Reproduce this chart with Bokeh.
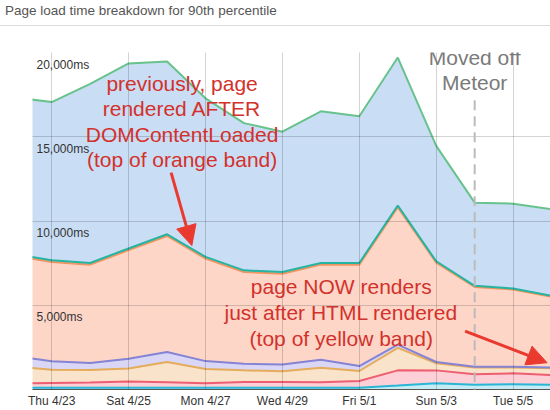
import pandas as pd
from bokeh.plotting import figure
from bokeh.models import (ColumnDataSource, Range1d, FixedTicker, Label, Arrow,
                          NormalHead, Div)
from bokeh.layouts import column
from bokeh.embed import file_html
from bokeh.resources import INLINE

# ---------------- data ----------------
title_text = "Page load time breakdown for 90th percentile"

dates = ["2015-04-22", "2015-04-23", "2015-04-24", "2015-04-25", "2015-04-26",
         "2015-04-27", "2015-04-28", "2015-04-29", "2015-04-30", "2015-05-01",
         "2015-05-02", "2015-05-03", "2015-05-04", "2015-05-05", "2015-05-06"]

# stacked components (ms), bottom to top
cyan_ms = [100, 100, 100, 100, 100, 100, 100, 100, 100, 110, 235, 370, 276, 313, 276]
red_ms = [260, 292, 311, 370, 331, 272, 351, 351, 331, 399, 901, 765, 624, 647, 584]
yellow_ms = [1020, 783, 744, 780, 1199, 843, 685, 626, 862, 588, 1332, 425, 400, 340, 400]
purple_ms = [620, 505, 415, 570, 600, 470, 394, 413, 467, 293, 192, 70, 50, 50, 50]
orange_ms = [5950, 5890, 5840, 6450, 6880, 6085, 5440, 5380, 5650, 6020, 8160, 5900, 4740, 4580, 4190]
teal_ms = [100, 100, 100, 100, 100, 100, 100, 100, 100, 100, 100, 80, 60, 60, 60]
green_ms = [9290, 9390, 10630, 10980, 10260, 9410, 8740, 8330, 9000, 8710, 8780, 6850, 4940, 5040, 5140]

tick_dates = ["2015-04-23", "2015-04-25", "2015-04-27", "2015-04-29",
              "2015-05-01", "2015-05-03", "2015-05-05"]
tick_labels = ["Thu 4/23", "Sat 4/25", "Mon 4/27", "Wed 4/29",
               "Fri 5/1", "Sun 5/3", "Tue 5/5"]
y_ticks = [5000, 10000, 15000, 20000]

# ---------------- styling ----------------
FONT = "Liberation Sans"
series = ["cyan", "red", "yellow", "purple", "orange", "teal", "green"]
fill_colors = ["#c5ebf4", "#fcd0d6", "#f9e3ca", "#d9d7f5", "#fdd6c8", "#c3e9e2", "#c9ddf5"]
line_colors = ["#29b6d6", "#ee5d72", "#e5ac5b", "#8583d4", "#ef9561", "#26b3a0", "#68c28c"]
RED_TEXT = "#d3312b"
RED_ARROW = "#ea3a30"


def ms(s):
    return (pd.Timestamp(s) - pd.Timestamp("1970-01-01")) / pd.Timedelta(milliseconds=1)


src = ColumnDataSource(data=dict(
    date=pd.to_datetime(dates),
    cyan=cyan_ms, red=red_ms, yellow=yellow_ms, purple=purple_ms,
    orange=orange_ms, teal=teal_ms, green=green_ms,
))

W = 550
p = figure(width=W, height=384, x_axis_type="datetime",
           x_range=Range1d(pd.Timestamp("2015-04-22 12:00"), pd.Timestamp("2015-05-05 23:20")),
           y_range=Range1d(0, 20000), y_axis_location=None, title=None,
           output_backend="svg", toolbar_location=None,
           min_border_left=32, min_border_right=0, min_border_top=26, min_border_bottom=0)
p.outline_line_color = None
p.background_fill_color = "white"
p.border_fill_color = "white"

p.varea_stack(series, x="date", source=src, color=fill_colors)
p.vline_stack(series, x="date", source=src, color=line_colors, line_width=2)

# x axis
tick_ms = [ms(d) for d in tick_dates]
p.xaxis.ticker = FixedTicker(ticks=tick_ms)
p.xaxis.major_label_overrides = {t: l for t, l in zip(tick_ms, tick_labels)}
p.xaxis.major_tick_line_color = None
p.xaxis.minor_tick_line_color = None
p.xaxis.major_tick_out = 0
p.xaxis.major_tick_in = 0
p.xaxis.minor_tick_out = 0
p.xaxis.axis_label_standoff = 0
p.xaxis.axis_line_color = "#555555"
p.xaxis.major_label_standoff = 4
p.xaxis.major_label_text_font = FONT
p.xaxis.major_label_text_font_size = "12px"
p.xaxis.major_label_text_color = "#333333"

# grids
p.xgrid.ticker = FixedTicker(ticks=tick_ms)
p.ygrid.ticker = FixedTicker(ticks=y_ticks)
for g in (p.xgrid, p.ygrid):
    g.grid_line_color = "#000000"
    g.grid_line_alpha = 0.17
    g.grid_line_width = 1
    g.level = "guide"

# y tick labels drawn inside the plot area
x0 = ms("2015-04-22 12:00")
for t in y_ticks:
    p.add_layout(Label(x=x0, y=t, text=f"{t:,}ms", x_offset=4, y_offset=-5,
                       text_baseline="top", text_align="left",
                       text_font=FONT, text_font_size="12px", text_color="#333333"))

# "Moved off Meteor" marker
p.add_layout(Arrow(start=None, end=None, x_start=ms("2015-05-04"), y_start=17160,
                   x_end=ms("2015-05-04"), y_end=-1500,
                   line_color="#bbbbbb", line_width=2, line_dash="10 6"))
for txt, yv in zip(["Moved off", "Meteor"], [19690, 18220]):
    p.add_layout(Label(x=ms("2015-05-04"), y=yv, text=txt, text_align="center",
                       text_baseline="middle", text_font=FONT, text_font_size="21px",
                       text_color="#7a7a7a"))

# red annotations
for txt, yv in zip(["previously, page", "rendered AFTER", "DOMContentLoaded",
                    "(top of orange band)"], [18160, 16690, 15160, 13630]):
    p.add_layout(Label(x=ms("2015-04-26 09:22"), y=yv, text=txt, text_align="center",
                       text_baseline="middle", text_font=FONT, text_font_size="21px",
                       text_color=RED_TEXT))
for txt, yv in zip(["page NOW renders", "just after HTML rendered",
                    "(top of yellow band)"], [6112, 4584, 3056]):
    p.add_layout(Label(x=ms("2015-04-30 12:43"), y=yv, text=txt, text_align="center",
                       text_baseline="middle", text_font=FONT, text_font_size="21px",
                       text_color=RED_TEXT))

p.add_layout(Arrow(end=NormalHead(size=20, fill_color=RED_ARROW, line_color=RED_ARROW),
                   x_start=ms("2015-04-26 02:31"), y_start=12870,
                   x_end=ms("2015-04-26 15:27"), y_end=8540,
                   line_color=RED_ARROW, line_width=3))
p.add_layout(Arrow(end=NormalHead(size=20, fill_color=RED_ARROW, line_color=RED_ARROW),
                   x_start=ms("2015-05-03 18:00"), y_start=3470,
                   x_end=ms("2015-05-05 21:13"), y_end=1590,
                   line_color=RED_ARROW, line_width=3))

div = Div(text=title_text, width=W, height=26, margin=(0, 0, 0, 0),
          styles={"font-family": "'Liberation Sans', Arial, sans-serif",
                  "font-size": "13.5px", "color": "#555555", "line-height": "22px",
                  "padding-left": "5px",
                  "border-bottom": "1px solid #dcdcdc", "box-sizing": "border-box",
                  "white-space": "nowrap"})

layout = column(div, p, spacing=0)
open("out.html", "w").write(file_html(layout, INLINE))
